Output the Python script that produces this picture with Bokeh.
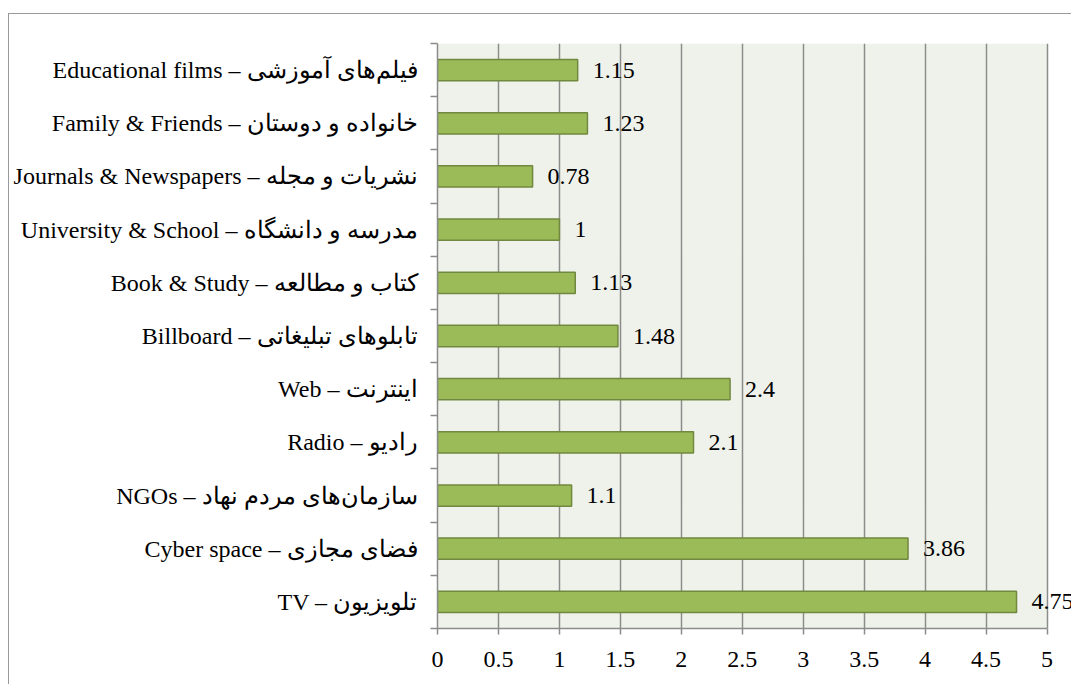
from bokeh.plotting import figure
from bokeh.models import Range1d, FixedTicker, ColumnDataSource, LinearAxis, LabelSet, BoxAnnotation
from bokeh.embed import file_html
from bokeh.resources import INLINE

# Categories from bottom (TV) to top (Educational films)
labels_en = ["TV", "Cyber space", "NGOs", "Radio", "Web", "Billboard", "Book & Study",
             "University & School", "Journals & Newspapers", "Family & Friends", "Educational films"]
labels_fa = ["تلویزیون", "فضای مجازی", "سازمان‌های مردم نهاد", "رادیو", "اینترنت",
             "تابلوهای تبلیغاتی", "کتاب و مطالعه", "مدرسه و دانشگاه", "نشریات و مجله",
             "خانواده و دوستان", "فیلم‌های آموزشی"]
values = [4.75, 3.86, 1.1, 2.1, 2.4, 1.48, 1.13, 1.0, 0.78, 1.23, 1.15]
value_text = ["4.75", "3.86", "1.1", "2.1", "2.4", "1.48", "1.13", "1", "0.78", "1.23", "1.15"]
x_ticks = [0, 0.5, 1, 1.5, 2, 2.5, 3, 3.5, 4, 4.5, 5]

FONT = "Liberation Serif"
FS = "24px"
X_MAX = 5
n = len(values)
centers = [i + 0.5 for i in range(n)]
full_labels = [f"{e} – {f}" for e, f in zip(labels_en, labels_fa)]

src = ColumnDataSource(dict(y=centers, v=values, t=value_text))

# frame runs on to the right edge so that the last value label is not clipped;
# the shaded plot area itself stops at X_MAX
W, H = 1063, 671
LEFT, RIGHT_PAD = 428, 25.5
x_end = X_MAX + X_MAX * RIGHT_PAD / (W - LEFT - RIGHT_PAD)

p = figure(width=W, height=H, output_backend="svg", toolbar_location=None,
           x_range=Range1d(0, x_end), y_range=Range1d(0, n),
           x_axis_location=None, y_axis_location=None,
           min_border_left=LEFT, min_border_right=0, min_border_top=29, min_border_bottom=57)
p.margin = (13, 0, 0, 8)
p.styles = {"border-left": "1.5px solid #999999", "border-top": "1.5px solid #999999"}

p.background_fill_color = "white"
p.border_fill_color = "white"
p.outline_line_color = None

p.add_layout(BoxAnnotation(left=0, right=X_MAX, bottom=0, top=n, fill_color="#EFF2EA",
                           fill_alpha=1, line_color=None, level="image"))

p.hbar(y="y", right="v", left=0, height=0.4, source=src,
       fill_color="#9BBB59", line_color="#71893F", line_width=1.5)

p.add_layout(LabelSet(x="v", y="y", text="t", source=src, x_offset=15,
                      text_baseline="middle", text_align="left", text_font=FONT,
                      text_font_size=FS, text_color="black"))

# x axis
xa = LinearAxis(ticker=FixedTicker(ticks=x_ticks), bounds=(0, X_MAX))
xa.axis_line_color = "#8C8C8C"
xa.axis_line_width = 1.5
xa.major_tick_line_color = "#8C8C8C"
xa.major_tick_line_width = 1.5
xa.major_tick_out = 6
xa.major_tick_in = 0
xa.minor_tick_line_color = None
xa.major_label_text_font = FONT
xa.major_label_text_font_size = FS
xa.major_label_text_color = "black"
xa.major_label_standoff = 17
p.add_layout(xa, "below")

# y axis: labels at category centres, ticks at category boundaries
ya = LinearAxis(ticker=FixedTicker(ticks=centers, minor_ticks=list(range(n + 1))))
ya.major_label_overrides = {c: lab for c, lab in zip(centers, full_labels)}
ya.axis_line_color = "#8C8C8C"
ya.axis_line_width = 1.5
ya.major_tick_line_color = None
ya.major_tick_out = 7
ya.major_tick_in = 0
ya.minor_tick_line_color = "#8C8C8C"
ya.minor_tick_line_width = 1.5
ya.minor_tick_out = 7
ya.minor_tick_in = 0
ya.major_label_text_font = FONT
ya.major_label_text_font_size = FS
ya.major_label_text_color = "black"
ya.major_label_standoff = 13
p.add_layout(ya, "left")

p.xgrid.ticker = FixedTicker(ticks=x_ticks)
p.xgrid.bounds = (0, X_MAX)
p.xgrid.grid_line_color = "#8C8C8C"
p.xgrid.grid_line_width = 1.5
p.ygrid.grid_line_color = None

open("out.html", "w").write(file_html(p, INLINE))
